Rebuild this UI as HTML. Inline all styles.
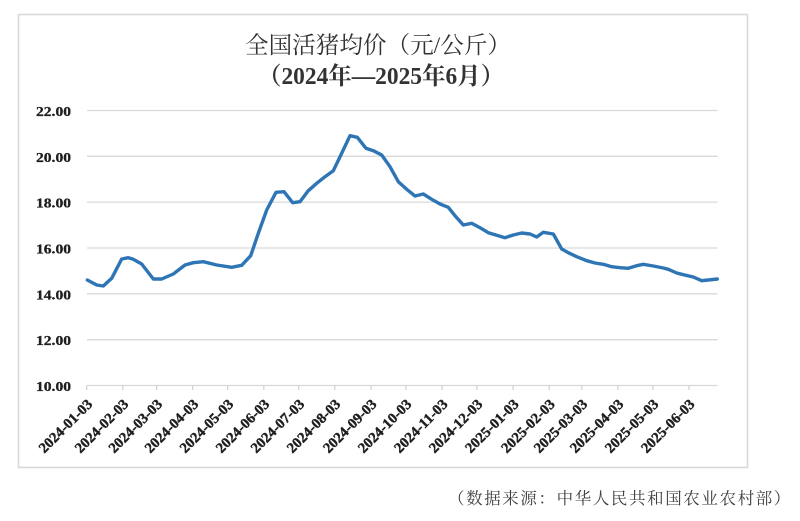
<!DOCTYPE html>
<html>
<head>
<meta charset="utf-8">
<style>
  html,body{margin:0;padding:0;background:#fff;}
  svg{display:block;}
  .yl{font-family:"Liberation Serif","Noto Serif CJK SC",serif;font-weight:bold;font-size:13.5px;fill:#1f1f1f;stroke:#1f1f1f;stroke-width:0.3px;}
  .xl{font-family:"Liberation Serif","Noto Serif CJK SC",serif;font-weight:bold;font-size:14.5px;fill:#1f1f1f;stroke:#1f1f1f;stroke-width:0.4px;}
  .t1{font-family:"Liberation Serif","Noto Serif CJK SC",serif;font-size:21px;fill:#333;}
  .t2{font-family:"Liberation Serif","Noto Serif CJK SC",serif;font-weight:bold;font-size:21px;fill:#333;}
  .src{font-family:"Liberation Serif","Noto Serif CJK SC",serif;font-size:16.5px;fill:#404040;letter-spacing:1.6px;}
</style>
</head>
<body>
<svg width="800" height="521" viewBox="0 0 800 521" xmlns="http://www.w3.org/2000/svg">
  <rect x="0" y="0" width="800" height="521" fill="#fff"/>
  <!-- frame -->
  <rect x="18.5" y="14.5" width="729" height="453" fill="#fff" stroke="#d9d9d9" stroke-width="1.6"/>

  <!-- title -->
  <g transform="translate(378,53) scale(1,1.12)">
    <text class="t1" x="0" y="0" text-anchor="middle" textLength="266" lengthAdjust="spacingAndGlyphs">全国活猪均价（元/公斤）</text>
  </g>
  <g transform="translate(381,84) scale(1,1.15)">
    <text class="t2" x="0" y="0" text-anchor="middle" textLength="246" lengthAdjust="spacingAndGlyphs">（2024年—2025年6月）</text>
  </g>

  <!-- gridlines -->
  <g stroke="#d9d9d9" stroke-width="1.3">
    <line x1="87" y1="110.5" x2="717.5" y2="110.5"/>
    <line x1="87" y1="156.3" x2="717.5" y2="156.3"/>
    <line x1="87" y1="202.1" x2="717.5" y2="202.1"/>
    <line x1="87" y1="248" x2="717.5" y2="248"/>
    <line x1="87" y1="293.8" x2="717.5" y2="293.8"/>
    <line x1="87" y1="339.7" x2="717.5" y2="339.7"/>
    <line x1="87" y1="385.5" x2="717.5" y2="385.5"/>
  </g>
  <!-- ticks -->
  <g stroke="#d0d0d0" stroke-width="1.2">
    <line x1="86.7" y1="385.5" x2="86.7" y2="390"/>
    <line x1="122.8" y1="385.5" x2="122.8" y2="390"/>
    <line x1="156.6" y1="385.5" x2="156.6" y2="390"/>
    <line x1="192.7" y1="385.5" x2="192.7" y2="390"/>
    <line x1="227.7" y1="385.5" x2="227.7" y2="390"/>
    <line x1="263.8" y1="385.5" x2="263.8" y2="390"/>
    <line x1="298.7" y1="385.5" x2="298.7" y2="390"/>
    <line x1="334.8" y1="385.5" x2="334.8" y2="390"/>
    <line x1="371" y1="385.5" x2="371" y2="390"/>
    <line x1="405.9" y1="385.5" x2="405.9" y2="390"/>
    <line x1="442" y1="385.5" x2="442" y2="390"/>
    <line x1="476.9" y1="385.5" x2="476.9" y2="390"/>
    <line x1="513.1" y1="385.5" x2="513.1" y2="390"/>
    <line x1="549.2" y1="385.5" x2="549.2" y2="390"/>
    <line x1="581.8" y1="385.5" x2="581.8" y2="390"/>
    <line x1="617.9" y1="385.5" x2="617.9" y2="390"/>
    <line x1="652.9" y1="385.5" x2="652.9" y2="390"/>
    <line x1="689" y1="385.5" x2="689" y2="390"/>
  </g>

  <!-- y labels -->
  <g class="yl" text-anchor="end">
    <text x="71" y="116" textLength="35" lengthAdjust="spacingAndGlyphs">22.00</text>
    <text x="71" y="161.8" textLength="35" lengthAdjust="spacingAndGlyphs">20.00</text>
    <text x="71" y="207.6" textLength="35" lengthAdjust="spacingAndGlyphs">18.00</text>
    <text x="71" y="253.5" textLength="35" lengthAdjust="spacingAndGlyphs">16.00</text>
    <text x="71" y="299.3" textLength="35" lengthAdjust="spacingAndGlyphs">14.00</text>
    <text x="71" y="345.2" textLength="35" lengthAdjust="spacingAndGlyphs">12.00</text>
    <text x="71" y="391" textLength="35" lengthAdjust="spacingAndGlyphs">10.00</text>
  </g>

  <!-- x labels -->
  <g class="xl" text-anchor="end">
    <text transform="translate(93.2,405) rotate(-45)" textLength="69" lengthAdjust="spacingAndGlyphs">2024-01-03</text>
    <text transform="translate(129.3,405) rotate(-45)" textLength="69" lengthAdjust="spacingAndGlyphs">2024-02-03</text>
    <text transform="translate(163.1,405) rotate(-45)" textLength="69" lengthAdjust="spacingAndGlyphs">2024-03-03</text>
    <text transform="translate(199.2,405) rotate(-45)" textLength="69" lengthAdjust="spacingAndGlyphs">2024-04-03</text>
    <text transform="translate(234.2,405) rotate(-45)" textLength="69" lengthAdjust="spacingAndGlyphs">2024-05-03</text>
    <text transform="translate(270.3,405) rotate(-45)" textLength="69" lengthAdjust="spacingAndGlyphs">2024-06-03</text>
    <text transform="translate(305.2,405) rotate(-45)" textLength="69" lengthAdjust="spacingAndGlyphs">2024-07-03</text>
    <text transform="translate(341.3,405) rotate(-45)" textLength="69" lengthAdjust="spacingAndGlyphs">2024-08-03</text>
    <text transform="translate(377.5,405) rotate(-45)" textLength="69" lengthAdjust="spacingAndGlyphs">2024-09-03</text>
    <text transform="translate(412.4,405) rotate(-45)" textLength="69" lengthAdjust="spacingAndGlyphs">2024-10-03</text>
    <text transform="translate(448.5,405) rotate(-45)" textLength="69" lengthAdjust="spacingAndGlyphs">2024-11-03</text>
    <text transform="translate(483.4,405) rotate(-45)" textLength="69" lengthAdjust="spacingAndGlyphs">2024-12-03</text>
    <text transform="translate(519.6,405) rotate(-45)" textLength="69" lengthAdjust="spacingAndGlyphs">2025-01-03</text>
    <text transform="translate(555.7,405) rotate(-45)" textLength="69" lengthAdjust="spacingAndGlyphs">2025-02-03</text>
    <text transform="translate(588.3,405) rotate(-45)" textLength="69" lengthAdjust="spacingAndGlyphs">2025-03-03</text>
    <text transform="translate(624.4,405) rotate(-45)" textLength="69" lengthAdjust="spacingAndGlyphs">2025-04-03</text>
    <text transform="translate(659.4,405) rotate(-45)" textLength="69" lengthAdjust="spacingAndGlyphs">2025-05-03</text>
    <text transform="translate(695.5,405) rotate(-45)" textLength="69" lengthAdjust="spacingAndGlyphs">2025-06-03</text>
  </g>

  <!-- series -->
  <polyline fill="none" stroke="#2e75b6" stroke-width="3.4" stroke-linejoin="round" stroke-linecap="round"
    points="87.3,280 96.7,285 103.3,286 111.7,278.3 121.7,259 128.3,257.7 133.3,259.3 141.7,264 153.3,279 161.7,279 173.3,274 185,265 193.3,262.7 203.3,261.7 216.7,265 231.7,267.3 241.7,265.3 250.7,255.7 258.3,233.3 266.7,210 276,192.3 284,191.7 292.7,202.7 300,201.7 308.3,190.7 316.7,183.3 325,176.7 333.3,170.7 341.7,153.3 350,135.7 357.3,137.3 366,148.3 373.3,150.7 381.7,155 390,166.7 398.3,181.7 406.7,189.3 415,196 423.3,194 431.7,199.3 440,204 448.3,207.3 455,215.7 463.3,225 471.7,223.3 480,227.7 488.3,232.7 496.7,235.3 505,237.7 513.3,235 521.7,233 530,234 536.7,237 543.3,232.3 553.3,234 561.7,249 568.3,252.7 576.7,256.7 586.7,260.7 595,263 603.3,264.3 611.7,266.7 620,267.7 628.3,268.3 636.7,265.7 643.3,264.3 653.3,266 663.3,268 668.3,269.3 676.7,273 683.3,274.7 693.3,277 701.7,280.7 708.3,280 717.3,279"/>

  <!-- source -->
  <text class="src" x="448" y="504">（数据来源：中华人民共和国农业农村部）</text>
</svg>
</body>
</html>
